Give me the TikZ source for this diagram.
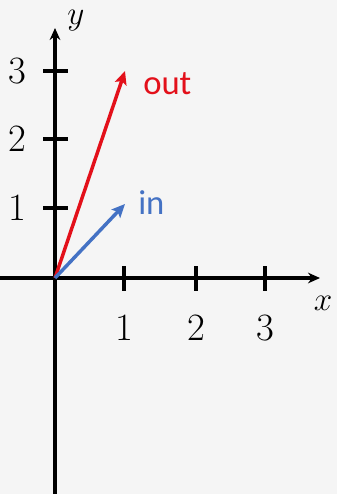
\documentclass[tikz,border=0pt]{standalone}
\usepackage{fontspec}
\newfontfamily\labelfont{Carlito}
\usetikzlibrary{arrows.meta}
\definecolor{bg}{HTML}{F5F5F5}
\definecolor{outred}{HTML}{E3101A}
\definecolor{inblue}{HTML}{4472C4}
\begin{document}
\begin{tikzpicture}[x=0.75pt,y=-0.75pt,
  axis/.style={line width=2.4pt,-{Stealth[length=9pt,width=8pt]}},
  tickmark/.style={line width=3pt},
  vec/.style={line width=2.6pt,-{Stealth[length=10pt,width=9pt,inset=2pt]}},
  num/.style={font=\fontsize{29}{33}\selectfont,inner sep=0pt},
  axlabel/.style={font=\fontsize{31}{35}\selectfont,inner sep=0pt},
  veclabel/.style={font=\labelfont\fontsize{26}{30}\selectfont,inner sep=0pt,anchor=west}]
\fill[bg] (0,0) rectangle (337,494);
\useasboundingbox (0,0) rectangle (337,494);
\coordinate (O) at (55,278);
\coordinate (xs) at (0,278);
\coordinate (xe) at (320,278);
\coordinate (ys) at (55,494);
\coordinate (ye) at (55,28);
\draw[axis] (xs) -- (xe);
\draw[axis] (ys) -- (ye);
% ticks
\foreach \i/\px in {1/124,2/196,3/265}{
  \draw[tickmark] (\px,266) -- (\px,291);
  \node[num] (xl\i) at (\px,328) {\i};
}
\foreach \i/\py in {1/208,2/139,3/71}{
  \draw[tickmark] (43,\py) -- (68,\py);
  \node[num] (yl\i) at (17,\py) {\i};
}
\node[axlabel] (xlab) at (323,303) {$x$};
\node[axlabel] (ylab) at (76,21) {$y$};
\coordinate (outend) at (125,71);
\coordinate (inend) at (125,204);
\draw[vec,outred] (O) -- (outend);
\draw[vec,inblue] (O) -- (inend);
\node[veclabel,text=outred] (outl) at (143,84) {out};
\node[veclabel,text=inblue] (inl) at (138,203) {in};
\end{tikzpicture}
\end{document}
